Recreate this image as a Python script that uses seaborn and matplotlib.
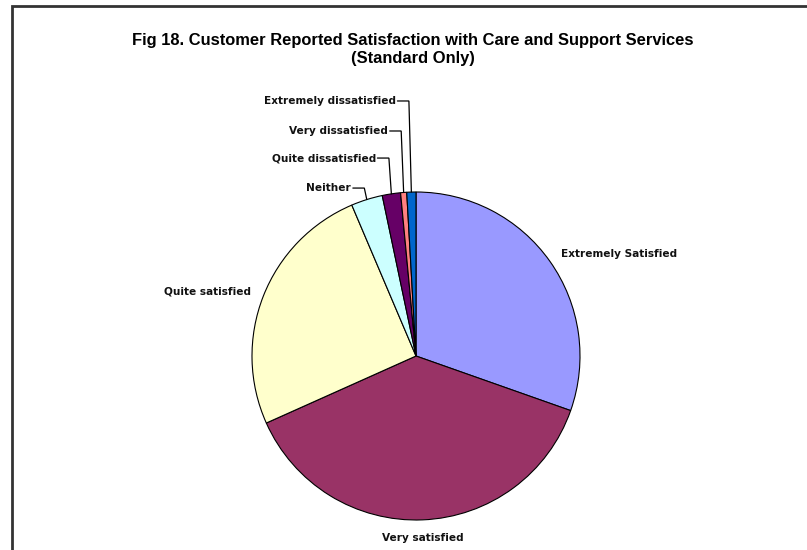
import numpy as np
import matplotlib
matplotlib.use("Agg")
import matplotlib.pyplot as plt
from matplotlib.patches import Rectangle
import seaborn as sns

# ---- data ----
categories = ["Extremely Satisfied", "Very satisfied", "Quite satisfied", "Neither",
              "Quite dissatisfied", "Very dissatisfied", "Extremely dissatisfied"]
shares = [30.4, 37.9, 25.3, 3.1, 1.8, 0.6, 0.9]
title_lines = ["Fig 18. Customer Reported Satisfaction with Care and Support Services",
               "(Standard Only)"]

# ---- styling ----
slice_colors = ["#9999FF", "#993366", "#FFFFCC", "#CCFFFF", "#660066", "#FF8080", "#0066CC"]
sns.set_theme(style="white")
plt.rcParams["font.family"] = ["Liberation Sans", "DejaVu Sans"]
palette = sns.color_palette(slice_colors)

W, H = 807, 550
fig = plt.figure(figsize=(W / 100, H / 100), dpi=100)
fig.patch.set_facecolor("white")

# pie axes (pixel geometry)
cx, cy, r = 416, 356, 164
ax = fig.add_axes([(cx - r) / W, (H - cy - r) / H, 2 * r / W, 2 * r / H])
wedges, _ = ax.pie(shares, colors=palette, startangle=90, counterclock=False,
                   wedgeprops=dict(edgecolor="black", linewidth=0.8))
ax.set_xlim(-1, 1)
ax.set_ylim(-1, 1)
ax.axis("off")

label_font = dict(fontsize=7.6, fontweight="bold", family=["DejaVu Sans"],
                  color="#111111")
# big slices: labels outside
for w, name in list(zip(wedges, categories))[:3]:
    ang = np.deg2rad((w.theta1 + w.theta2) / 2)
    x, y = 1.08 * np.cos(ang), 1.08 * np.sin(ang)
    ha = "center" if abs(x) < 0.2 else ("left" if x > 0 else "right")
    va = "top" if y < -0.9 else "center"
    ax.text(x, y, name, ha=ha, va=va, clip_on=False, **label_font)

# small slices: stacked labels with elbow leader lines
label_heights = [1.024, 1.207, 1.372, 1.555]
for w, name, ly in zip(wedges[3:], categories[3:], label_heights):
    ang = np.deg2rad((w.theta1 + w.theta2) / 2)
    ax_, ay_ = np.cos(ang), np.sin(ang)
    tx = ax_ - 0.095
    ax.text(tx, ly, name, ha="right", va="center", clip_on=False, **label_font)
    ax.plot([tx + 0.01, ax_ - 0.015, ax_], [ly, ly, ay_], color="black",
            linewidth=0.9, clip_on=False, solid_joinstyle="miter")

# title
fig.text(0.512, 1 - 41 / H, title_lines[0], ha="center", va="center",
         fontsize=11.9, fontweight="bold", color="black")
fig.text(0.512, 1 - 58 / H, title_lines[1], ha="center", va="center",
         fontsize=11.9, fontweight="bold", color="black")

# chart frame (extends beyond right/bottom edges)
fig.add_artist(Rectangle((12 / W, -0.2), 1.5, 1.2 - 5.5 / H, transform=fig.transFigure,
                         fill=False, edgecolor="#333333", linewidth=2))

fig.savefig("out.png", dpi=100)
